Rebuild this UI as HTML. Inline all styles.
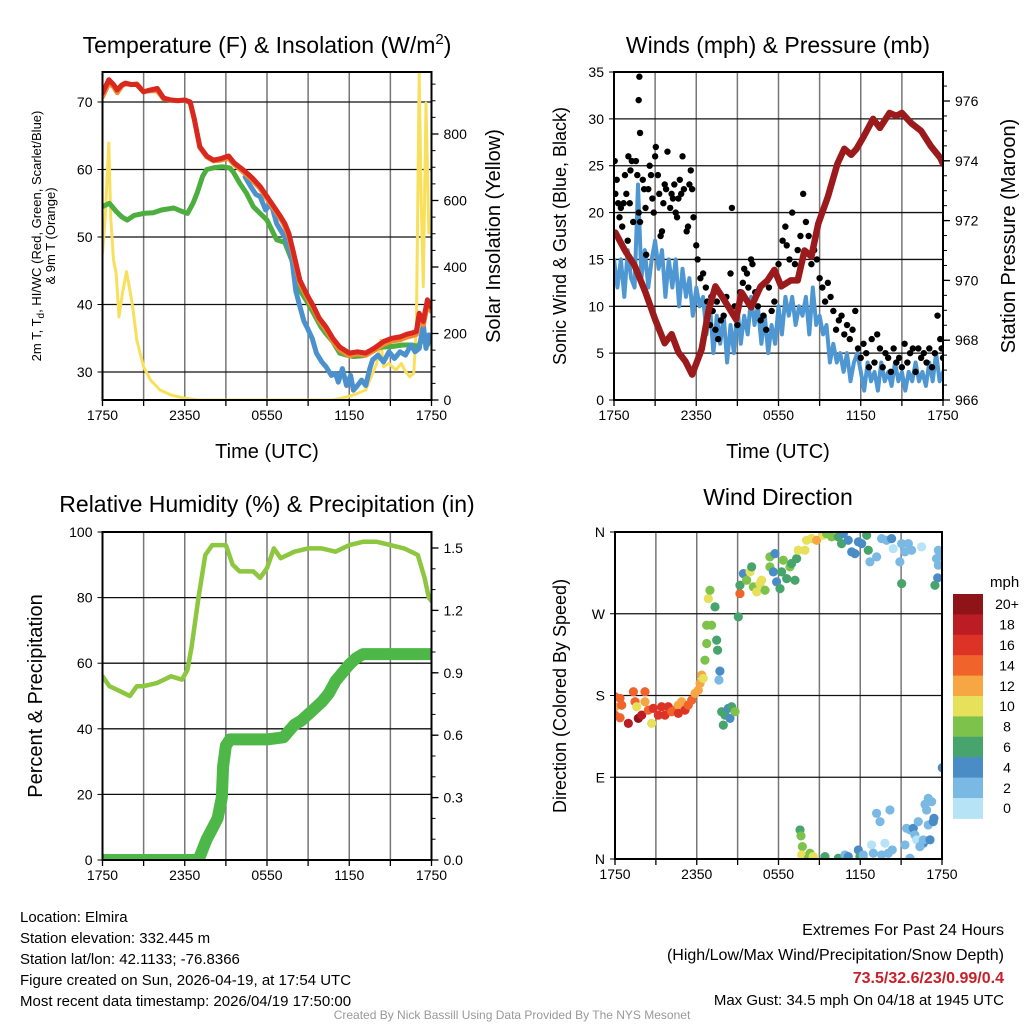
<!DOCTYPE html>
<html><head><meta charset="utf-8">
<style>
html,body{margin:0;padding:0;background:#fff;}
svg{display:block;font-family:"Liberation Sans",Arial,sans-serif;}
</style></head>
<body>
<svg id="c" width="1024" height="1024" viewBox="0 0 1024 1024">
<rect width="1024" height="1024" fill="#fff"/>
<defs>
<clipPath id="cp1"><rect x="102.5" y="72" width="329" height="328"/></clipPath>
<clipPath id="cp2"><rect x="614" y="72" width="329" height="328"/></clipPath>
<clipPath id="cp3"><rect x="102.5" y="532" width="329" height="328"/></clipPath>
<clipPath id="cp4"><rect x="615" y="532" width="327" height="327"/></clipPath>
</defs>
<!-- titles -->
<text x="267" y="53" font-size="23" text-anchor="middle">Temperature (F) &amp; Insolation (W/m<tspan dy="-9" font-size="15">2</tspan><tspan dy="9">)</tspan></text>
<text x="778" y="53" font-size="23" text-anchor="middle">Winds (mph) &amp; Pressure (mb)</text>
<text x="267" y="512" font-size="23" text-anchor="middle">Relative Humidity (%) &amp; Precipitation (in)</text>
<text x="778" y="505" font-size="23" text-anchor="middle">Wind Direction</text>
<!-- axis titles -->
<text transform="translate(41,236) rotate(-90)" font-size="13" text-anchor="middle">2m T, T<tspan dy="3" font-size="10">d</tspan><tspan dy="-3">, HI/WC (Red, Green, Scarlet/Blue)</tspan></text>
<text transform="translate(55,236) rotate(-90)" font-size="13" text-anchor="middle">&amp; 9m T (Orange)</text>
<text transform="translate(500,236) rotate(-90)" font-size="20" text-anchor="middle">Solar Insolation (Yellow)</text>
<text x="267" y="458" font-size="20" text-anchor="middle">Time (UTC)</text>
<text x="778" y="458" font-size="20" text-anchor="middle">Time (UTC)</text>
<text transform="translate(566,236) rotate(-90)" font-size="18" text-anchor="middle">Sonic Wind &amp; Gust (Blue, Black)</text>
<text transform="translate(1015,236) rotate(-90)" font-size="20" text-anchor="middle">Station Pressure (Maroon)</text>
<text transform="translate(42,696) rotate(-90)" font-size="20" text-anchor="middle">Percent &amp; Precipitation</text>
<text transform="translate(566,696) rotate(-90)" font-size="18" text-anchor="middle">Direction (Colored By Speed)</text>
<!-- footer -->
<g font-size="15">
<text x="20" y="922">Location: Elmira</text>
<text x="20" y="943">Station elevation: 332.445 m</text>
<text x="20" y="964">Station lat/lon: 42.1133; -76.8366</text>
<text x="20" y="985">Figure created on Sun, 2026-04-19, at 17:54 UTC</text>
<text x="20" y="1006">Most recent data timestamp: 2026/04/19 17:50:00</text>
</g>
<g text-anchor="end">
<text x="1004" y="935" font-size="16">Extremes For Past 24 Hours</text>
<text x="1004" y="960" font-size="16">(High/Low/Max Wind/Precipitation/Snow Depth)</text>
<text x="1004" y="983" font-size="16" font-weight="bold" fill="#c8202a">73.5/32.6/23/0.99/0.4</text>
<text x="1004" y="1005" font-size="15">Max Gust: 34.5 mph On 04/18 at 1945 UTC</text>
</g>
<text x="512" y="1019" font-size="12" fill="#999" text-anchor="middle">Created By Nick Bassill Using Data Provided By The NYS Mesonet</text>
<g id="plots"></g>
</svg>
<script>
// ---------- data ----------
const xTickLabels = ["1750","2350","0550","1150","1750"];
const tempTicks = [30,40,50,60,70];
const solarTicks = [0,200,400,600,800];
const windTicks = [0,5,10,15,20,25,30,35];
const pressTicks = [966,968,970,972,974,976];
const rhTicks = [0,20,40,60,80,100];
const precipTicks = ["0.0","0.3","0.6","0.9","1.2","1.5"];
const dirLabels = ["N","E","S","W","N"];
const speedBins = ["0","2","4","6","8","10","12","14","16","18","20+"];

const redHours = [0,0.46,0.8,1.07,1.4,1.67,2.1,2.5,3.0,3.5,4.0,4.46,5.0,5.5,6.0,6.4,6.7,7.1,7.6,8.1,8.6,9.2,9.6,10.3,10.9,11.5,12.0,12.5,13.0,13.3,13.6,13.9,14.4,14.9,15.4,15.8,16.3,16.8,17.3,18.0,18.6,19.2,19.8,20.5,21.1,21.7,22.2,22.6,22.9,23.1,23.4,23.7,24];
const redTemp = [71.3,73.3,72.6,71.8,72.5,72.8,72.6,72.6,71.5,71.8,72.0,70.6,70.3,70.2,70.3,70.0,67.5,63.4,62.0,61.4,61.6,62.0,61.0,59.9,58.8,57.5,56.0,54.5,53.0,52.0,50.5,48.0,43.6,41.5,39.7,38.0,36.7,35.0,33.7,32.8,33.0,32.8,33.5,34.5,35.0,35.2,35.6,35.8,36.0,38.7,37.5,40.7,39.5];
const orangeTemp = [71.0,73.0,72.5,71.6,72.6,72.9,72.8,72.9,71.8,71.9,71.9,70.7,70.5,70.4,70.5,70.1,67.6,63.5,62.1,61.5,61.6,61.9,61.0,59.8,58.7,57.4,55.9,54.4,52.9,51.8,50.3,47.8,43.4,41.3,39.6,37.9,36.5,34.8,33.5,32.6,32.9,32.7,33.4,34.3,34.8,35.0,35.4,35.6,35.8,38.3,37.2,40.2,39.2];
const greenHours = [0,0.5,1.0,1.4,1.8,2.3,3.0,3.7,4.3,5.2,5.8,6.2,6.6,6.9,7.3,7.6,8.2,8.8,9.3,9.55,10.0,10.5,11.0,11.5,12.0,12.7,13.3,13.8,14.4,14.9,15.4,15.9,16.3,16.8,17.3,17.8,18.3,19.0,19.8,20.5,21.2,21.9,22.6,23.0,23.4,23.7,24];
const greenTemp = [54.5,55.0,53.8,53.0,52.5,53.2,53.5,53.6,54.0,54.3,53.8,53.5,55.0,56.5,59.0,60.0,60.3,60.4,60.2,59.6,58.0,56.5,54.5,53.5,52.5,49.6,49.2,46.6,42.1,40.5,38.7,36.8,35.7,34.5,32.8,32.5,32.3,32.4,33.5,33.7,33.8,34.0,34.0,33.8,35.0,34.0,35.2];
const blueHours = [10.4,10.8,11.2,11.5,11.9,12.3,12.7,13.0,13.4,13.8,14.1,14.4,14.7,14.9,15.3,15.6,16.0,16.3,16.7,17.0,17.2,17.5,17.8,18.1,18.3,18.6,18.9,19.2,19.5,19.7,20.1,20.5,20.9,21.3,21.7,22.1,22.5,22.8,23.1,23.4,23.6,23.8,24];
const blueTemp = [58.9,57.5,56.3,56.0,54.0,55.0,52.0,51.0,49.6,47.0,42.0,39.7,37.5,36.7,35.0,32.8,31.5,30.8,29.5,29.8,28.5,30.5,28.0,29.5,27.3,28.0,28.8,28.0,30.5,31.8,32.5,31.5,33.0,32.0,33.0,32.5,34.0,33.0,33.5,37.0,33.5,35.5,34.5];
const solarHours = [0,0.2,0.46,0.6,0.8,1.0,1.2,1.45,1.75,2.0,2.2,2.5,3.0,3.5,4.2,5.0,5.9,7,10,13,16.8,17.9,18.6,19.2,19.7,20.0,20.3,20.5,20.9,21.4,21.8,22.1,22.4,22.7,22.9,23.1,23.25,23.4,23.6,23.8];
const solarVals = [442,550,773,550,421,380,250,320,386,330,280,180,100,60,30,15,6,0,0,0,0,10,20,30,80,110,180,100,110,90,110,85,70,80,220,982,600,341,893,502];

const windVals = [15,12,15,11,16,13,12,23,13,16,12,15,17,14,16,11,15,12,15,10,14,11,13,9,12,10,11,7,10,5,9,6,9,4,8,5,10,6,9,7,11,8,10,6,9,5,8,6,10,7,11,9,11,8,10,9,11,7,12,8,9,7,8,4,6,4,5,3,5,2,4,5,3,1,4,2,3,1,4,2,3,1.5,4,2,3,1,3,2,4,2,3,1.5,4,2,5,2,3];
const gustHours = [0.05,0.1,0.2,0.3,0.4,0.5,0.6,0.7,0.8,0.9,1.0,1.05,1.15,1.2,1.3,1.4,1.8,1.85,1.9,1.6,1.7,1.8,1.9,2.1,2.2,2.3,2.35,2.5,2.6,2.7,2.8,2.9,3.0,3.05,3.2,3.3,3.4,3.5,3.6,3.7,3.8,3.9,4.1,4.2,4.3,4.4,4.5,4.6,4.7,4.8,4.9,5.0,5.1,5.3,5.4,5.5,5.6,5.7,5.8,6.0,6.1,6.3,6.5,6.7,6.8,7.0,7.1,7.2,7.4,7.5,7.6,7.8,8.0,8.2,8.5,8.6,8.8,9.0,9.2,9.4,9.5,9.7,9.8,10.0,10.1,10.3,10.5,10.7,10.9,11.1,11.3,11.5,11.7,12.0,12.3,12.5,12.6,12.8,13.0,13.2,13.4,13.6,13.8,14.0,14.2,14.4,14.6,14.8,15.0,15.2,15.4,15.6,15.8,16.0,16.2,16.4,16.6,16.8,17.0,17.2,17.4,17.6,17.8,18.0,18.2,18.4,18.6,18.8,19.0,19.2,19.4,19.6,19.8,20.0,20.2,20.4,20.6,20.8,21.0,21.2,21.4,21.6,21.8,22.0,22.2,22.4,22.6,22.8,23.0,23.2,23.4,23.6,23.8,23.9,24.0];
const gustVals = [25.5,22,23.5,21,19.5,20.5,18.5,21,24,22,17,26,21,24.5,25.5,19,32,34.5,28.5,25.5,24,20,19,23.5,22.5,20.5,15.5,22.5,25,24,21.5,20,26,27,24,22,17.5,18,21,23,22.5,26.5,20.5,22,21.5,23,20,19.5,21.5,23.5,22,26,22.5,18,18.5,23,24.5,22.5,19.5,16.5,15,13,13.5,12,10.5,8,11,9.5,7.5,10.5,6.5,8.5,9,11,13.5,20.5,10,8,11.5,12.5,14,13.5,12,15,14.5,11.5,10,8.5,9,7.5,12,9.5,10.5,14.5,17,18.5,16.5,15,20,14.5,16,17.5,22,19,17.5,14.5,16,15,13,12,10.5,12.5,11,9.5,7.5,8.5,9,7,8,6.5,7.5,9.5,5.5,4.5,6,5,3.5,6.5,4,7,5.5,3.5,5,4.5,3,5.5,4,4.5,3.5,6,4,5,5.5,3,5.5,4.5,5,4,5.5,3.5,5,9,6.5,5.5,4.5];
const pressHours = [0.1,0.8,1.5,2.3,3.0,3.7,4.2,4.7,5.2,5.7,6.4,6.9,7.4,8.1,8.9,9.3,10.0,10.7,11.2,11.7,12.2,12.9,13.4,13.9,14.4,14.9,15.6,16.3,16.8,17.3,17.7,18.2,18.9,19.4,20.1,20.6,21.0,21.7,22.4,23.1,23.8,24];
const pressVals = [971.6,971.0,970.5,969.6,968.7,967.9,968.2,967.6,967.3,966.85,967.7,969.0,969.8,969.3,968.7,969.6,969.1,969.8,970.0,970.35,969.8,970.0,970.0,971.0,970.8,971.9,972.8,973.9,974.4,974.2,974.4,974.8,975.4,975.1,975.6,975.5,975.6,975.25,975.0,974.5,974.1,973.9];

const rhHours = [0,0.5,1,1.5,2,2.5,3,4,5,5.8,6.2,6.5,7,7.5,8,9,9.5,10,11,11.5,12,12.5,13,14,15,16,17,18,19,20,21,22,23,23.5,23.8,24];
const rhVals = [56,53,52,51,50,53,53,54,56,55,58,65,80,93,96,96,90,88,88,86,89,95,92,94,95,95,94,96,97,97,96,95,93,86,80,79];
const precipHours = [0,7.0,7.3,7.6,8.0,8.4,8.7,8.8,9.0,9.3,9.7,10.5,12.0,13.2,13.6,14.0,14.5,15.0,15.5,16.0,16.5,17.0,17.5,18.0,18.5,19.0,19.5,24];
const precipVals = [0,0,0.05,0.1,0.15,0.2,0.3,0.45,0.55,0.58,0.58,0.58,0.58,0.59,0.62,0.65,0.67,0.7,0.73,0.76,0.8,0.86,0.9,0.94,0.97,0.99,0.99,0.99];

const dirHours = [0,0,0,0.37,0.37,0.49,0.98,1.35,1.47,1.59,1.71,1.96,2.2,2.2,2.45,2.69,2.81,3.18,3.42,3.67,3.91,4.16,4.4,4.65,4.65,4.89,5.14,5.38,5.63,5.87,6.11,6.24,6.36,6.48,6.6,6.73,6.73,7.09,6.85,6.97,7.34,7.46,7.53,7.7,7.63,7.83,8.07,7.95,8.32,8.56,8.44,8.81,9.05,9.17,9.17,9.42,9.66,9.91,10.03,10.15,10.4,10.64,10.76,11.01,11.37,11.37,11.62,11.74,11.86,12.11,12.23,12.35,12.6,12.84,12.96,13.21,13.33,13.45,13.94,14.06,14.43,14.8,15.29,15.53,15.9,16.39,16.63,16.76,17.12,17.37,17.61,17.86,18.1,18.47,18.59,18.71,19.2,19.57,19.93,20.3,20.42,20.91,21.04,21.28,21.53,21.77,22.5,21.04,23.48,23.6,23.73,23.73,23.85,23.68,13.58,13.65,13.75,13.7,13.94,14.19,14.31,14.55,15.41,16.39,16.88,17.12,17.86,17.98,18.22,18.22,18.83,18.96,19.2,19.45,19.57,19.81,20.06,20.18,20.35,21.28,21.4,21.65,21.65,21.89,22.01,22.14,22.26,22.63,22.38,22.63,22.75,22.87,22.99,22.99,23.12,23.36,23.41,23.24,24.02];
const dirDeg = [178.6,167.6,158.4,176.8,155.5,169.4,149.3,184.1,173.1,167.6,154.8,158.4,184.1,173.1,163.9,149.3,165.8,158.4,167.6,158.4,167.6,162.1,163.9,169.4,160.3,173.1,163.9,169.4,174.9,182.3,185.9,193.3,202.4,198.8,218.9,237.3,257.4,257.4,286.7,295.9,277.6,241,229.9,206.8,197,162.1,158.4,147.4,165.8,167.6,154.8,162.1,266.6,292.2,301.4,314.2,306.9,316.1,321.6,299.6,294.1,303.2,306.9,295.9,332.6,321.6,316.1,336.2,305.1,297.7,316.1,328.9,308.7,321.6,325.3,306.9,330.7,339.9,339.9,350.9,352.7,350.9,356.4,358.2,354.6,354.6,347.2,358.2,350.9,338.1,336.2,349.1,347.2,356.4,339.9,327.1,332.6,352.7,350.9,352.7,341.7,327.1,347.2,338.1,347.2,339.9,343.6,303.2,301.4,330.7,323.4,339.9,336.2,309.5,32,25.4,13.6,4.5,2.6,0.8,6.3,2.6,2.6,0.8,4.5,2.6,9.9,2.6,0.8,4.5,15.5,6.3,50.3,41.1,4.5,17.3,6.3,54,10,15.5,33.8,0.8,32,33.8,26.5,21,41.1,17.3,13.6,21,60.2,54,66.8,37.5,21.1,41.1,44.8,63.1,100.5,0.1];
const dirSpeed = [14,12,14,14,14,14,18,14,14,10,20,18,14,12,14,10,16,16,16,16,16,14,14,12,16,12,16,14,14,12,12,12,12,10,8,8,8,8,10,8,6,6,6,4,2,6,6,6,4,6,4,8,6,14,6,4,8,10,6,8,10,10,10,8,8,8,4,4,4,6,6,8,6,8,6,6,6,10,10,10,10,12,10,8,8,6,6,4,4,4,4,4,4,6,6,2,2,2,2,4,0,2,2,2,2,2,0,6,6,2,2,2,2,4,6,8,8,10,10,8,8,10,6,6,2,4,4,6,2,2,0,2,2,2,2,0,2,2,2,2,2,2,2,4,2,0,2,4,2,2,2,2,2,2,4,4,4,2,4,4];

const speedColors = ["#b7e3f7","#7ab9e4","#4a8dc6","#48a46d","#7cc24b","#e6e05a","#f6a642","#f0632b","#dd3327","#bc1c24","#8f1418"];

// ---------- helpers ----------
const NS="http://www.w3.org/2000/svg";
const root=document.getElementById('plots');
function mk(tag,attrs,parent){const e=document.createElementNS(NS,tag);for(const k in attrs)e.setAttribute(k,attrs[k]);(parent||root).appendChild(e);return e;}
function txt(s,attrs,parent){const e=mk('text',attrs,parent);e.textContent=s;return e;}
function pathFrom(xs,ys,fx,fy){return xs.map((t,i)=>(i?'L':'M')+fx(t).toFixed(1)+','+fy(ys[i]).toFixed(1)).join('');}

function frame(p){
  const g=mk('g',{});
  
  
  for(let h=0;h<=24;h+=3){const x=p.x0+h*(p.x1-p.x0)/24;mk('line',{x1:x,y1:p.y0,x2:x,y2:p.y1,stroke:'#777','stroke-width':1.5},g);}
  return g;
}
function hgrid(p,ys){
  const g=mk('g',{});
  
  
  ys.forEach(y=>mk('line',{x1:p.x0,y1:y,x2:p.x1,y2:y,stroke:'#111','stroke-width':1.3},g));
}
function border(p){
  const r=mk('rect',{x:p.x0,y:p.y0,width:p.x1-p.x0,height:p.y1-p.y0,fill:'none',stroke:'#000','stroke-width':2});
  
  
  const g=mk('g',{'font-size':14,'text-anchor':'middle'});
  
  
  for(let h=0;h<=24;h+=3){const x=p.x0+h*(p.x1-p.x0)/24;mk('line',{x1:x,y1:p.y1,x2:x,y2:p.y1+6,stroke:'#000','stroke-width':1.3},g);}
  xTickLabels.forEach((s,i)=>{txt(s,{x:p.x0+i*(p.x1-p.x0)/4,y:p.y1+20},g);});
}
function leftAxis(p,vals,fy,labels){
  const g=mk('g',{'font-size':14,'text-anchor':'end'});
  
  
  vals.forEach((v,i)=>{const y=fy(v);mk('line',{x1:p.x0-5,y1:y,x2:p.x0,y2:y,stroke:'#000'},g);txt(labels?labels[i]:String(v),{x:p.x0-10,y:y+5},g);});
}
function rightAxis(p,vals,fy,labels,minorStep,minV,maxV){
  const g=mk('g',{'font-size':14,'text-anchor':'start'});
  
  
  for(let v=minV;v<=maxV+1e-9;v+=minorStep){const y=fy(v);if(y<p.y0-0.5)break;mk('line',{x1:p.x1,y1:y,x2:p.x1+4,y2:y,stroke:'#000','stroke-width':1},g);}
  vals.forEach((v,i)=>{const y=fy(+v);mk('line',{x1:p.x1,y1:y,x2:p.x1+7,y2:y,stroke:'#000','stroke-width':1.3},g);txt(labels?labels[i]:String(v),{x:p.x1+12,y:y+5},g);});
}

// ---------- panel 1 ----------
const P1={name:'temperature',x0:102.5,x1:431.5,y0:72,y1:400};
const x1f=h=>P1.x0+h*(P1.x1-P1.x0)/24;
const yT=v=>372-(v-30)*6.75;
const yS=v=>400-v*0.3325;
frame(P1);hgrid(P1,tempTicks.map(yT));
const g1=mk('g',{'clip-path':'url(#cp1)',fill:'none','stroke-linejoin':'round','stroke-linecap':'round'});
const ly=mk('path',{d:pathFrom(solarHours,solarVals,x1f,yS),stroke:'#f9e05c','stroke-width':3},g1);


const lg=mk('path',{d:pathFrom(greenHours,greenTemp,x1f,yT),stroke:'#4cae3f','stroke-width':5},g1);


const lb=mk('path',{d:pathFrom(blueHours,blueTemp,x1f,yT),stroke:'#4a91cd','stroke-width':5},g1);


const lo=mk('path',{d:pathFrom(redHours,orangeTemp,x1f,v=>yT(v)+1.5),stroke:'#f08a33','stroke-width':5},g1);


const lr=mk('path',{d:pathFrom(redHours,redTemp,x1f,yT),stroke:'#d8281f','stroke-width':5},g1);


border(P1);leftAxis(P1,tempTicks,yT);
rightAxis(P1,solarTicks,yS,null,50,0,1000);

// ---------- panel 2 ----------
const P2={name:'wind',x0:614,x1:943,y0:72,y1:400};
const x2f=h=>P2.x0+h*(P2.x1-P2.x0)/24;
const yW=v=>400-v*9.371;
const yP=v=>400-(v-966)*29.9;
frame(P2);hgrid(P2,windTicks.map(yW));
const g2=mk('g',{'clip-path':'url(#cp2)',fill:'none','stroke-linejoin':'round','stroke-linecap':'round'});
const windHours=windVals.map((v,i)=>i*0.25);
const lw=mk('path',{d:pathFrom(windHours,windVals,x2f,yW),stroke:'#4f97d2','stroke-width':4},g2);


const gg=mk('g',{fill:'#000'},g2);


gustHours.forEach((h,i)=>{const c=mk('circle',{cx:x2f(h),cy:yW(gustVals[i]),r:3.2},gg);

});
const lp=mk('path',{d:pathFrom(pressHours,pressVals,x2f,yP),stroke:'#9b1b1d','stroke-width':6.5},g2);


border(P2);leftAxis(P2,windTicks,yW);
rightAxis(P2,pressTicks,yP,null,0.5,966,977);

// ---------- panel 3 ----------
const P3={name:'humidity',x0:102.5,x1:431.5,y0:532,y1:860};
const x3f=h=>P3.x0+h*(P3.x1-P3.x0)/24;
const yRH=v=>860-v*3.28;
const yPr=v=>860-v*208;
frame(P3);hgrid(P3,rhTicks.map(yRH));
const g3=mk('g',{'clip-path':'url(#cp3)',fill:'none','stroke-linejoin':'round','stroke-linecap':'round'});
const lrh=mk('path',{d:pathFrom(rhHours,rhVals,x3f,yRH),stroke:'#8dc63f','stroke-width':4.5},g3);


const lpr=mk('path',{d:pathFrom(precipHours,precipVals,x3f,yPr),stroke:'#4db748','stroke-width':12},g3);


border(P3);leftAxis(P3,rhTicks,yRH);
rightAxis(P3,precipTicks,yPr,null,0.1,0,1.5);

// ---------- panel 4 ----------
const P4={name:'direction',x0:615,x1:942,y0:532,y1:859};
const x4f=h=>P4.x0+h*(P4.x1-P4.x0)/24;
const yD=v=>859-v*(P4.y1-P4.y0)/360;
frame(P4);hgrid(P4,[90,180,270].map(yD));
const g4=mk('g',{'clip-path':'url(#cp4)'});


dirHours.forEach((h,i)=>{const s=(dirSpeed[i]===undefined)?2:dirSpeed[i];const k=Math.min(10,Math.max(0,Math.round(s/2)));
const c=mk('circle',{cx:x4f(h),cy:yD(dirDeg[i]),r:4.6,fill:speedColors[k]},g4);

});
border(P4);
const gl=mk('g',{'font-size':14,'text-anchor':'end'});


dirLabels.forEach((s,i)=>{const y=yD(i*90);mk('line',{x1:P4.x0-5,y1:y,x2:P4.x0,y2:y,stroke:'#000'},gl);txt(s,{x:P4.x0-10,y:y+5},gl);});

// colorbar
const cb=mk('g',{});


txt('mph',{x:990,y:587,'font-size':15},cb);
const cbTop=594,cbH=20.4;
speedBins.forEach((s,i)=>{const k=10-i;const y=cbTop+i*cbH;
mk('rect',{x:953,y:y,width:30,height:cbH+0.5,fill:speedColors[k]},cb);
txt(speedBins[k],{x:1007,y:y+cbH/2+5,'font-size':14,'text-anchor':'middle'},cb);});
</script>
</body></html>
